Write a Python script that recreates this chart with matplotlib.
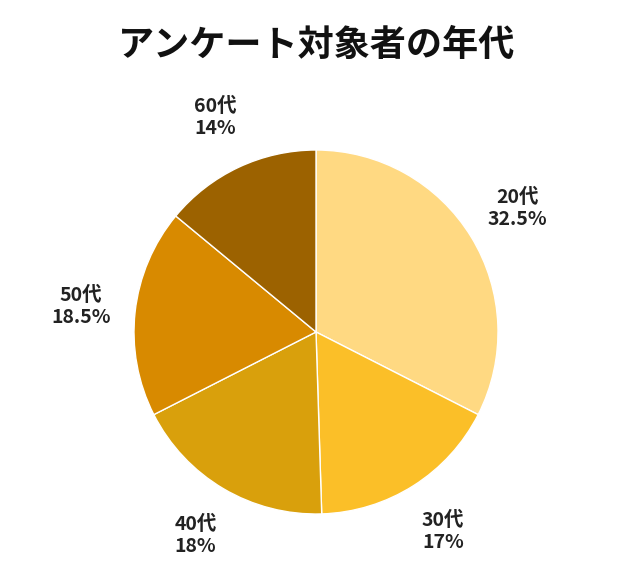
import matplotlib
matplotlib.use("Agg")
import matplotlib.pyplot as plt

plt.rcParams['font.family'] = ['Noto Sans CJK JP', 'DejaVu Sans']

categories = ["20代", "30代", "40代", "50代", "60代"]
values = [32.5, 17, 18, 18.5, 14]
value_labels = ["32.5%", "17%", "18%", "18.5%", "14%"]
colors = ["#FFD982", "#FBBF28", "#D9A00C", "#D88A00", "#9C6200"]

fig = plt.figure(figsize=(6.34, 5.8), dpi=100)
r = 182
ax = fig.add_axes([(316 - r) / 634, (580 - 332 - r) / 580, 2 * r / 634, 2 * r / 580])
labels = [f"{c}\n{v}" for c, v in zip(categories, value_labels)]
wedges, texts = ax.pie(values, colors=colors, startangle=90, counterclock=False,
                       labels=labels, labeldistance=1.3,
                       wedgeprops=dict(edgecolor="white", linewidth=1),
                       textprops=dict(fontsize=14, fontweight="bold", color="#222222",
                                      ha="center", va="center", linespacing=1.2))
ax.set_xlim(-1, 1)
ax.set_ylim(-1, 1)
ax.set_aspect("equal")
fig.text(0.5, 1 - 45 / 580, "アンケート対象者の年代", ha="center", va="center",
         fontsize=26, fontweight="bold", color="#111111")
fig.savefig("out.png", dpi=100)
